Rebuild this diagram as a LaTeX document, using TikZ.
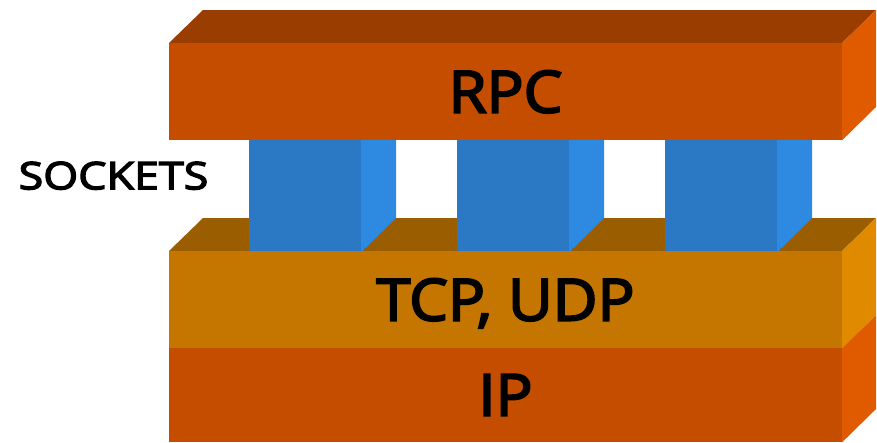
\documentclass[tikz,border=0pt]{standalone}
\usepackage{fontspec}
\setmainfont{Open Sans}
\newfontfamily\layerfont{Open Sans}[FakeBold=3.5, FakeStretch=1.06]
\newfontfamily\sockfont{Open Sans}[FakeBold=3.5, FakeStretch=1.18]
\definecolor{rpcfront}{HTML}{C44D00}
\definecolor{rpctop}{HTML}{993D00}
\definecolor{rpcside}{HTML}{E05A00}
\definecolor{tcpfront}{HTML}{C47600}
\definecolor{tcptop}{HTML}{9A5E00}
\definecolor{tcpside}{HTML}{E08A00}
\definecolor{sockfront}{HTML}{2B78C5}
\definecolor{sockside}{HTML}{2E89E0}
\begin{document}
\begin{tikzpicture}[
                x = 1pt, y = -1pt,
                front/.style = {inner sep = 0mm, minimum width = 673pt, text depth = 0pt,
                                font = \layerfont\fontsize{58}{58}\selectfont},
                sock/.style = {fill = sockfront, inner sep = 0mm, minimum size = 112pt},
                lbl/.style = {inner sep = 0mm, text depth = 0pt, font = \sockfont\fontsize{38}{38}\selectfont},
            ]
            \useasboundingbox (0,0) rectangle (877,442);

            % IP
            \node (ip) [front, fill = rpcfront, minimum height = 94pt] at (505.5,395){IP};
            \fill[rpcside] (ip.north east) -- ++(34,-33) -- ++(0,94) -- (ip.south east) -- cycle;

            % TCP, UDP
            \fill[tcptop] (169,251) -- (203,218) -- (876,218) -- (842,251) -- cycle;
            \foreach \x/\n in {305/a, 513/b, 721/c} {
                \node (s\n) [sock] at (\x,196){};
                \fill[sockside] (s\n.north east) -- ++(35,0) -- ++(0,78) -- (s\n.south east) -- cycle;
            }
            \node (tcp) [front, fill = tcpfront, minimum height = 97pt] at (505.5,299.5){TCP, UDP};
            \fill[tcpside] (tcp.north east) -- ++(34,-33) -- ++(0,97) -- (tcp.south east) -- cycle;

            % RPC
            \fill[rpctop] (169,43) -- (203,10) -- (876,10) -- (842,43) -- cycle;
            \node (rpc) [front, fill = rpcfront, minimum height = 97pt] at (505.5,91.5){RPC};
            \fill[rpcside] (rpc.north east) -- ++(34,-33) -- ++(0,97) -- (rpc.south east) -- cycle;

            \node (sockets) [lbl] at (113.5,175.5){SOCKETS};
        \end{tikzpicture}
\end{document}
